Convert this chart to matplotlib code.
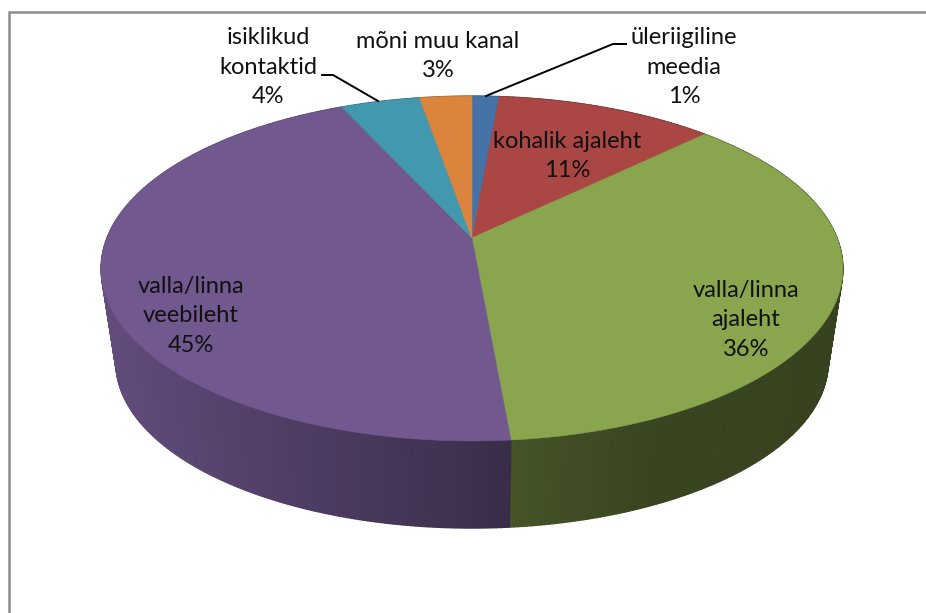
import numpy as np
import matplotlib
matplotlib.use('Agg')
import matplotlib.pyplot as plt
from matplotlib.patches import Polygon

categories = ['üleriigiline\nmeedia', 'kohalik ajaleht', 'valla/linna\najaleht',
              'valla/linna\nveebileht', 'isiklikud\nkontaktid', 'mõni muu kanal']
values = [1.4, 11.3, 35.9, 44.6, 4.1, 2.7]
colors = ['#4572a7', '#aa4643', '#89a54e', '#71588f', '#4198af', '#db843d']
label_pos = [(684, 67), (567, 156), (746, 320), (191, 316), (268, 67), (438, 56)]

# perspective of the pie, in pixels
CX, CY = 472, 238
RX, KY, PERSP = 365, 167, 0.177
MID_Y = 268.5
DEPTH, SHRINK = 94, 0.96


def top_rim(t):
    w = 1 + PERSP * np.cos(t)
    return CX + RX * np.sin(t) / w, CY - KY * np.cos(t) / w


def bottom_rim(t):
    x, y = top_rim(t)
    return CX + SHRINK * (x - CX), MID_Y + DEPTH + SHRINK * (y - MID_Y)


def shade(color, x):
    # side wall gets darker from left to right
    f = np.interp(x, [101, 510, 650, 843], [0.86, 0.51, 0.42, 0.40])
    return tuple(np.array(matplotlib.colors.to_rgb(color)) * f)


fig = plt.figure(figsize=(9.26, 6.13), dpi=100)
ax = fig.add_axes([0, 0, 1, 1])
ax.set_xlim(0, 926)
ax.set_ylim(613, 0)
ax.axis('off')

# chart frame, only left and top are in the picture
ax.plot([8.5, 8.5, 926], [613, 11.5, 11.5], color='#8c8c8c', lw=1.8, solid_joinstyle='miter')

edges = np.cumsum([0] + values) / sum(values) * 2 * np.pi

# side walls first
for i, color in enumerate(colors):
    ts = np.linspace(edges[i], edges[i + 1], max(int(values[i] * 6), 2))
    for a, b in zip(ts[:-1], ts[1:]):
        xa, ya = top_rim(a)
        xb, yb = top_rim(b)
        xc, yc = bottom_rim(b)
        xd, yd = bottom_rim(a)
        c = shade(color, (xa + xb) / 2)
        ax.add_patch(Polygon([(xa, ya), (xb, yb), (xc, yc), (xd, yd)], closed=True,
                             facecolor=c, edgecolor=c, lw=1.0, zorder=2))

# then top faces
for i, color in enumerate(colors):
    ts = np.linspace(edges[i], edges[i + 1], max(int(values[i] * 6), 8))
    x, y = top_rim(ts)
    pts = [(CX, CY)] + list(zip(x, y))
    ax.add_patch(Polygon(pts, closed=True, facecolor=color, edgecolor=color, lw=0.4, zorder=3))

# leader lines
ax.plot([322, 333, 378], [75, 75, 101], color='black', lw=1.4, zorder=4)
ax.plot([626, 613, 486], [44, 44, 96], color='black', lw=1.4, zorder=4)

for name, v, (lx, ly) in zip(categories, values, label_pos):
    ax.text(lx, ly, f'{name}\n{round(v)}%', ha='center', va='center', family='Lato',
            fontsize=17, color='#111111', linespacing=1.5, zorder=5)

fig.savefig('out.png', dpi=100)
